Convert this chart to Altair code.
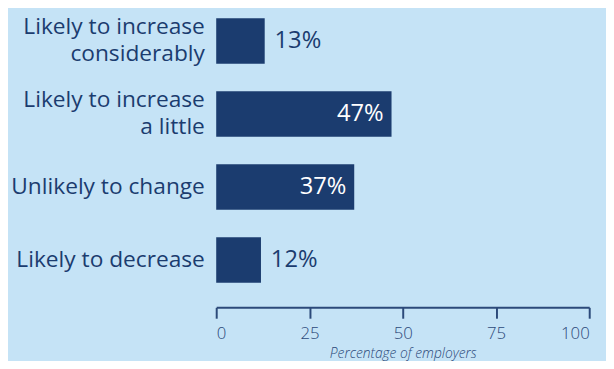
import altair as alt
import pandas as pd

categories = [
    "Likely to increase\nconsiderably",
    "Likely to increase\na little",
    "Unlikely to change",
    "Likely to decrease",
]
values = [13, 47, 37, 12]
tick_values = [0, 25, 50, 75, 100]

df = pd.DataFrame({"category": categories, "value": values})
df["label"] = df["value"].astype(str) + "%"

NAVY = "#1b3c6f"
AXIS = "#2c4a7a"
BG = "#c5e3f6"
FONT = "Open Sans"

y_enc = alt.Y(
    "category:N",
    sort=categories,
    scale=alt.Scale(paddingInner=0.378, paddingOuter=0),
    axis=alt.Axis(
        title=None,
        domain=False,
        ticks=False,
        labelExpr="split(datum.label, '\\n')",
        labelFontSize=23,
        labelFont=FONT,
        labelColor=NAVY,
        labelPadding=12,
        labelLineHeight=27,
        labelLimit=300,
        labelOffset={
            "condition": {"test": "indexof(datum.value, '\\n') >= 0", "value": -14},
            "value": 0,
        },
    ),
)

x_enc = alt.X(
    "value:Q",
    scale=alt.Scale(domain=[0, 100], nice=False),
    axis=alt.Axis(
        values=tick_values,
        grid=False,
        offset=25,
        tickSize=11,
        tickWidth=2,
        tickColor=AXIS,
        domainWidth=2,
        domainColor=AXIS,
        labelFontSize=17,
        labelFont=FONT,
        labelFontWeight=300,
        labelColor=AXIS,
        labelPadding=8,
        title="Percentage of employers",
        titleFont=FONT,
        titleFontSize=14,
        titleFontStyle="italic",
        titleFontWeight=300,
        titleColor=AXIS,
        titleY=47,
        titleBaseline="middle",
    ),
)

bars = alt.Chart(df).mark_bar(color=NAVY).encode(x=x_enc, y=y_enc)

outside = (
    alt.Chart(df)
    .transform_filter("datum.value < 20")
    .mark_text(align="left", baseline="middle", dx=10, fontSize=24, font=FONT, color=NAVY)
    .encode(x="value:Q", y=alt.Y("category:N", sort=categories), text="label:N")
)
inside = (
    alt.Chart(df)
    .transform_filter("datum.value >= 20")
    .mark_text(align="right", baseline="middle", dx=-8, fontSize=24, font=FONT, color="white")
    .encode(x="value:Q", y=alt.Y("category:N", sort=categories), text="label:N")
)

chart = (
    alt.layer(bars, outside, inside)
    .properties(
        width=378,
        height=268,
        autosize=alt.AutoSizeParams(type="none"),
        padding={"left": 211, "top": 8, "right": 17, "bottom": 77},
        background=BG,
    )
    .configure_view(stroke=None)
)

chart.save("out.html", embed_options={"renderer": "svg", "actions": False})
